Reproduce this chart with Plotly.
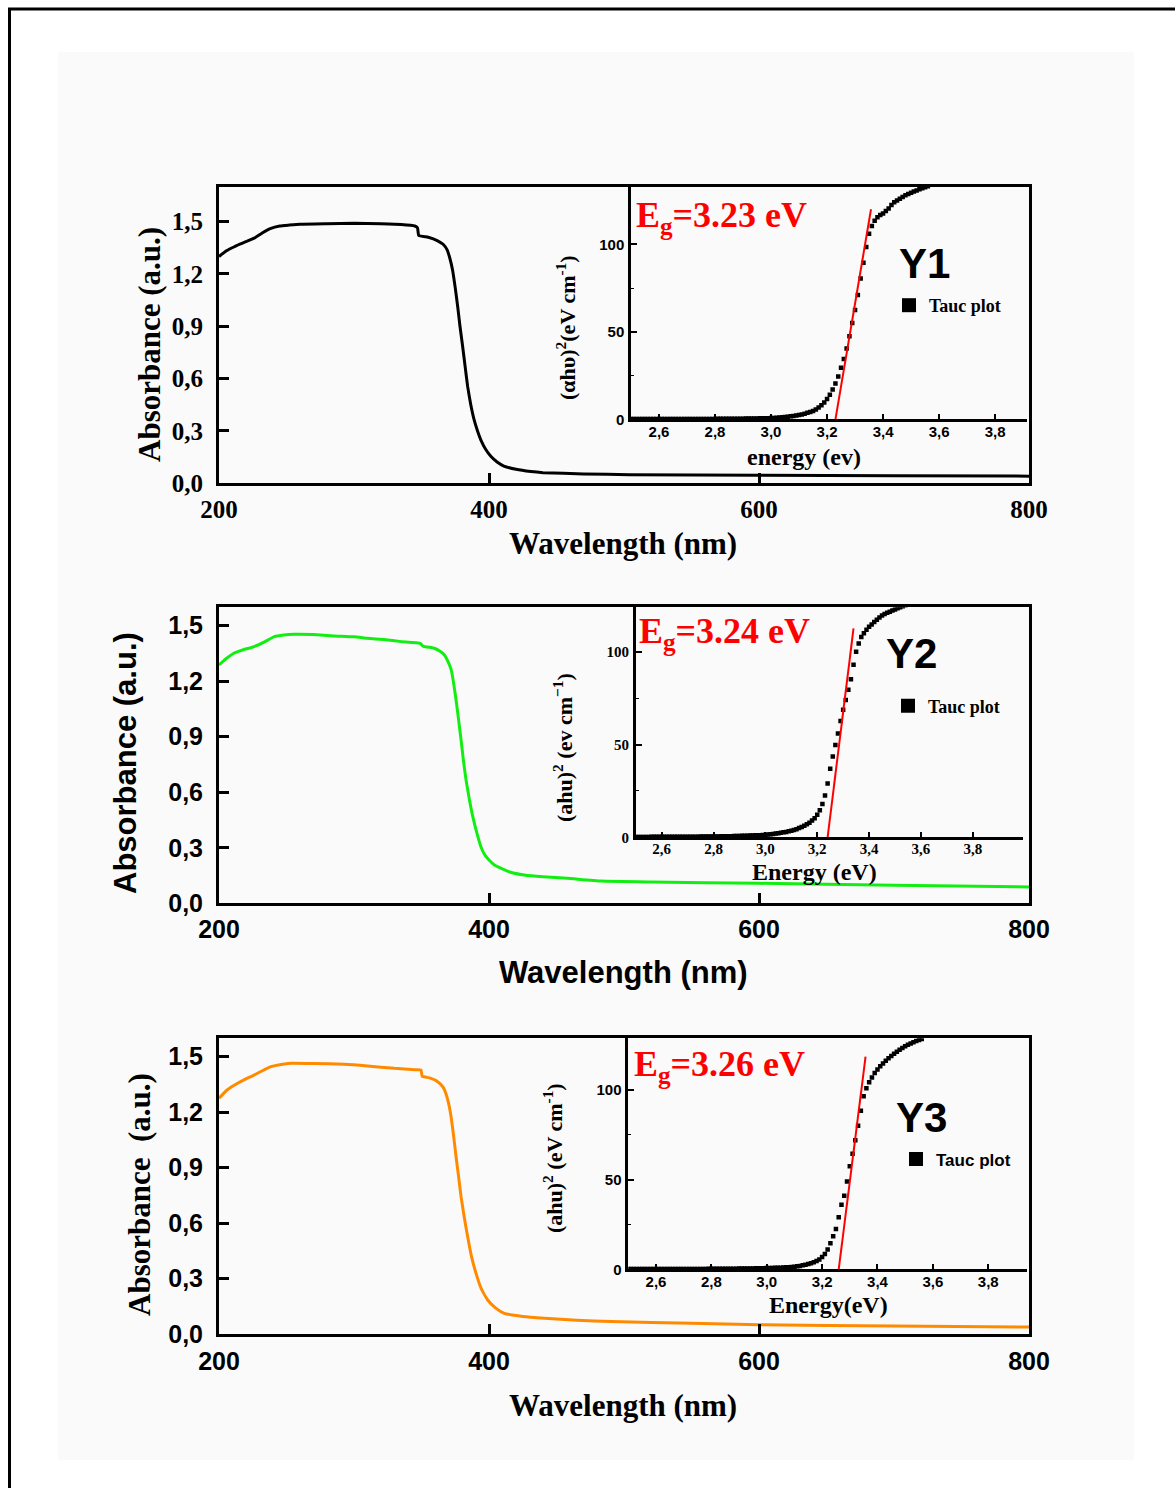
import plotly.graph_objects as go

W, H = 1175, 1488

# ---------------- UV-Vis absorbance spectra ----------------
wl_y1 = [200, 205, 209, 215, 220, 226, 232, 238, 245, 252, 260, 280, 300, 320, 335, 345,
         347, 348, 355, 362, 366, 369, 371, 373, 375, 376.8, 378.5, 380.5, 382.3, 384.2,
         386.5, 389, 391.5, 394, 397.5, 401.5, 406, 411, 420, 431, 440, 470, 504, 600, 700, 800]
abs_y1 = [1.30, 1.33, 1.347, 1.37, 1.385, 1.405, 1.435, 1.46, 1.475, 1.48, 1.485, 1.488, 1.49,
          1.487, 1.483, 1.475, 1.465, 1.42, 1.41, 1.39, 1.37, 1.338, 1.29, 1.223, 1.12, 1.013,
          0.90, 0.783, 0.67, 0.554, 0.45, 0.363, 0.30, 0.248, 0.195, 0.153, 0.122, 0.099, 0.08,
          0.067, 0.061, 0.054, 0.049, 0.046, 0.043, 0.041]

wl_y2 = [200, 205, 211, 218, 226, 233, 241, 248, 256, 270, 285, 300, 310, 322, 335, 349, 351,
         359.5, 364, 367, 370, 372, 374, 375.6, 377.5, 379.3, 381, 383, 385.5, 388, 391, 394,
         397, 400, 404, 409, 416, 426, 440, 458, 483, 520, 600, 700, 800]
abs_y2 = [1.288, 1.32, 1.351, 1.37, 1.387, 1.41, 1.441, 1.45, 1.454, 1.452, 1.445, 1.44, 1.432,
          1.425, 1.414, 1.405, 1.39, 1.378, 1.36, 1.342, 1.30, 1.261, 1.18, 1.099, 0.99, 0.883,
          0.775, 0.666, 0.56, 0.468, 0.38, 0.306, 0.26, 0.234, 0.207, 0.189, 0.168, 0.153,
          0.143, 0.135, 0.12, 0.115, 0.108, 0.097, 0.088]

wl_y3 = [200, 206, 213.8, 220, 223.7, 231, 238.5, 246, 253.3, 270, 292.8, 310, 329.9, 345,
         349.6, 350.5, 356, 362, 366, 368, 370, 371.9, 373.8, 375.6, 377.5, 379.3, 381.7,
         384.2, 387, 390.4, 394, 399, 405, 411.3, 425, 441, 465, 490.4, 550, 600, 700, 800]
abs_y3 = [1.275, 1.32, 1.356, 1.38, 1.392, 1.42, 1.446, 1.458, 1.464, 1.463, 1.459, 1.45, 1.437,
          1.43, 1.428, 1.395, 1.385, 1.365, 1.335, 1.302, 1.25, 1.175, 1.07, 0.959, 0.85, 0.743,
          0.63, 0.526, 0.42, 0.328, 0.25, 0.184, 0.14, 0.112, 0.095, 0.085, 0.075, 0.067,
          0.058, 0.05, 0.043, 0.038]

# ---------------- Tauc plots: (alpha h nu)^2 vs photon energy ----------------
tauc_energy = [
    2.50, 2.51, 2.52, 2.53, 2.54, 2.55, 2.56, 2.57, 2.58, 2.59,
    2.60, 2.61, 2.62, 2.63, 2.64, 2.65, 2.66, 2.67, 2.68, 2.69,
    2.70, 2.71, 2.72, 2.73, 2.74, 2.75, 2.76, 2.77, 2.78, 2.79,
    2.80, 2.81, 2.82, 2.83, 2.84, 2.85, 2.86, 2.87, 2.88, 2.89,
    2.90, 2.91, 2.92, 2.93, 2.94, 2.95, 2.96, 2.97, 2.98, 2.99,
    3.00, 3.01, 3.02, 3.03, 3.04, 3.05, 3.06, 3.07, 3.08, 3.09,
    3.10, 3.11, 3.12, 3.13, 3.14, 3.15, 3.16, 3.17, 3.18, 3.19,
    3.20, 3.21, 3.22, 3.23, 3.24, 3.25, 3.26, 3.27, 3.28, 3.29,
    3.30, 3.31, 3.32, 3.33, 3.34, 3.35, 3.36, 3.37, 3.38, 3.39,
    3.40, 3.41, 3.42, 3.43, 3.44, 3.45, 3.46, 3.47, 3.48, 3.49,
    3.50, 3.51, 3.52, 3.53, 3.54, 3.55, 3.56]

tauc_y1 = [
    0.10, 0.10, 0.10, 0.11, 0.11, 0.11, 0.12, 0.12, 0.12, 0.13,
    0.13, 0.13, 0.14, 0.14, 0.14, 0.15, 0.15, 0.16, 0.16, 0.17,
    0.17, 0.18, 0.18, 0.19, 0.19, 0.20, 0.21, 0.21, 0.22, 0.23,
    0.24, 0.25, 0.26, 0.27, 0.28, 0.29, 0.30, 0.32, 0.33, 0.35,
    0.37, 0.39, 0.41, 0.44, 0.47, 0.50, 0.54, 0.58, 0.62, 0.67,
    0.72, 0.80, 0.90, 1.00, 1.15, 1.30, 1.50, 1.70, 1.90, 2.20,
    2.50, 2.80, 3.20, 3.70, 4.20, 4.70, 5.60, 6.70, 8.00, 9.60,
    11.6, 14.0, 17.0, 20.5, 24.5, 29.5, 34.5, 40.5, 47.5, 55.0,
    62.5, 71.0, 80.5, 89.5, 98.5, 106.0, 110.5, 113.5, 115.5, 116.8,
    117.6, 119.0, 120.5, 122.5, 124.0, 125.0, 126.0, 127.0, 128.0, 128.8,
    129.5, 130.1, 130.7, 131.4, 132.0, 132.6, 133.2]

tauc_y2 = [
    0.20, 0.20, 0.21, 0.21, 0.22, 0.22, 0.23, 0.23, 0.24, 0.24,
    0.25, 0.25, 0.26, 0.27, 0.27, 0.28, 0.29, 0.29, 0.30, 0.31,
    0.32, 0.33, 0.34, 0.35, 0.36, 0.37, 0.38, 0.40, 0.41, 0.43,
    0.45, 0.47, 0.49, 0.51, 0.53, 0.56, 0.59, 0.62, 0.66, 0.70,
    0.74, 0.78, 0.82, 0.87, 0.92, 0.98, 1.04, 1.10, 1.17, 1.25,
    1.30, 1.45, 1.60, 1.80, 2.00, 2.20, 2.50, 2.70, 2.90, 3.20,
    3.50, 3.90, 4.40, 5.00, 5.60, 6.20, 7.00, 7.90, 9.00, 10.3,
    12.2, 14.6, 18.0, 22.5, 29.0, 37.0, 43.5, 49.7, 56.0, 62.7,
    68.8, 74.0, 79.5, 85.2, 93.0, 100.0, 104.5, 108.0, 110.0, 111.8,
    113.4, 114.7, 116.0, 117.2, 118.4, 119.5, 120.4, 121.0, 121.6, 122.2,
    122.8, 123.4, 124.0, 124.5, 125.0, 125.5, 126.0]

tauc_y3 = [
    0.10, 0.10, 0.10, 0.11, 0.11, 0.11, 0.12, 0.12, 0.12, 0.13,
    0.13, 0.13, 0.14, 0.14, 0.15, 0.15, 0.15, 0.16, 0.16, 0.17,
    0.17, 0.18, 0.18, 0.19, 0.20, 0.20, 0.21, 0.22, 0.23, 0.24,
    0.25, 0.26, 0.27, 0.28, 0.29, 0.30, 0.31, 0.33, 0.34, 0.36,
    0.38, 0.40, 0.42, 0.44, 0.46, 0.49, 0.52, 0.55, 0.58, 0.62,
    0.66, 0.70, 0.75, 0.80, 0.86, 0.93, 1.00, 1.10, 1.20, 1.30,
    1.45, 1.65, 1.90, 2.20, 2.55, 2.95, 3.40, 3.95, 4.60, 5.40,
    6.8, 8.6, 11.0, 14.5, 18.5, 22.5, 29.0, 36.0, 41.0, 49.0,
    57.5, 64.5, 72.0, 80.0, 88.5, 96.5, 101.0, 104.3, 107.0, 109.5,
    111.5, 113.2, 114.8, 116.3, 117.7, 119.0, 120.2, 121.3, 122.4, 123.4,
    124.4, 125.3, 126.0, 126.7, 127.3, 127.9, 128.5]

# band-gap values and the upper end of each linear fit
band_gaps = [3.23, 3.24, 3.26]
fit_top_energy = [3.357, 3.34, 3.357]
fit_top_value = [120.0, 112.6, 118.6]
sample_names = ["Y1", "Y2", "Y3"]

# tick values and labels (comma decimal separator)
abs_ticks = [0.0, 0.3, 0.6, 0.9, 1.2, 1.5]
abs_ticktext = ["0,0", "0,3", "0,6", "0,9", "1,2", "1,5"]
wl_ticks = [200, 400, 600, 800]
wl_ticktext = ["200", "400", "600", "800"]
energy_ticks = [2.6, 2.8, 3.0, 3.2, 3.4, 3.6, 3.8]
energy_ticktext = ["2,6", "2,8", "3,0", "3,2", "3,4", "3,6", "3,8"]
tauc_ticks = [0, 50, 100]
tauc_ticktext = ["0", "50", "100"]

SERIF = "Liberation Serif"
SANS = "Liberation Sans"


def fx(p):
    return p / W


def fy(p):
    return 1 - p / H


fig = go.Figure()

# ---------- panel geometry (pixels) ----------
main_x_px = (219, 1029)
main_panels = [
    dict(top=186.7, bottom=483.3, ymax=1.70),
    dict(top=607.2, bottom=903.3, ymax=1.60),
    dict(top=1038.2, bottom=1334.0, ymax=1.60),
]
inset_panels = [
    dict(left=631.0, right=1027.0, top=186.7, bottom=419.3, xmax=3.914, ymax=132.9),
    dict(left=635.8, right=1023.3, top=607.2, bottom=837.3, xmax=3.995, ymax=124.0),
    dict(left=628.3, right=1026.7, top=1038.2, bottom=1269.3, xmax=3.939, ymax=128.9),
]

line_colors = ["#000000", "#12ee12", "#ff8a00"]
spectra = [(wl_y1, abs_y1), (wl_y2, abs_y2), (wl_y3, abs_y3)]
taucs = [tauc_y1, tauc_y2, tauc_y3]

# fonts per panel
main_tick_font = [SERIF, SANS, SANS]
main_ytitle_font = [SERIF, SANS, SERIF]
main_xtitle_font = [SERIF, SANS, SERIF]
inset_xtick_font = [SANS, SERIF, SANS]
inset_ytick_font = [SANS, SERIF, SANS]
legend_font = [SERIF, SERIF, SANS]
legend_size = [18, 18, 17]
main_x_standoff = [2, 2, 3]
inset_x_standoff = [-3, -4, -3]

for i in range(3):
    mx = "x" if i == 0 else f"x{i + 1}"
    my = "y" if i == 0 else f"y{i + 1}"
    ix = f"x{i + 4}"
    iy = f"y{i + 4}"

    wl, ab = spectra[i]
    fig.add_trace(go.Scatter(x=wl, y=ab, mode="lines", xaxis=mx, yaxis=my,
                             line=dict(color=line_colors[i], width=3, shape="spline",
                                       smoothing=0.4),
                             showlegend=False, hoverinfo="skip"))

    # Tauc data points
    fig.add_trace(go.Scatter(x=tauc_energy, y=taucs[i], mode="markers", xaxis=ix, yaxis=iy,
                             marker=dict(symbol="square", size=4.5, color="black",
                                         line=dict(width=0)),
                             showlegend=False, hoverinfo="skip"))
    # legend entry
    lg = "legend" if i == 0 else f"legend{i + 1}"
    fig.add_trace(go.Scatter(x=[None], y=[None], mode="markers", xaxis=ix, yaxis=iy,
                             marker=dict(symbol="square", size=14, color="black"),
                             name="Tauc plot", legend=lg, showlegend=True))
    # linear extrapolation to the energy axis
    fig.add_trace(go.Scatter(x=[band_gaps[i], fit_top_energy[i]], y=[0, fit_top_value[i]],
                             mode="lines", xaxis=ix, yaxis=iy,
                             line=dict(color="#ff0000", width=2),
                             showlegend=False, hoverinfo="skip"))

layout = dict(
    width=W, height=H, autosize=False,
    margin=dict(l=0, r=0, t=0, b=0, pad=0),
    paper_bgcolor="white",
    plot_bgcolor="rgba(0,0,0,0)",
    showlegend=True,
)

for i in range(3):
    mp = main_panels[i]
    ip = inset_panels[i]
    sfx = "" if i == 0 else str(i + 1)
    tf = main_tick_font[i]
    layout[f"xaxis{sfx}"] = dict(
        domain=[fx(main_x_px[0]), fx(main_x_px[1])], range=[200, 800], automargin=False,
        anchor=f"y{sfx}", showline=True, linewidth=3, linecolor="black", mirror=True,
        ticks="inside", ticklen=10, tickwidth=2.5, tickcolor="black",
        tickvals=wl_ticks, ticktext=wl_ticktext, showgrid=False, zeroline=False,
        tickfont=dict(family=tf, size=25, color="black", weight="bold"),
        ticklabelstandoff=main_x_standoff[i],
    )
    layout[f"yaxis{sfx}"] = dict(
        domain=[fy(mp["bottom"]), fy(mp["top"])], range=[0, mp["ymax"]], automargin=False,
        anchor=f"x{sfx}", showline=True, linewidth=3, linecolor="black", mirror=True,
        ticks="inside", ticklen=10, tickwidth=2.5, tickcolor="black",
        tickvals=abs_ticks, ticktext=abs_ticktext, showgrid=False, zeroline=False,
        tickfont=dict(family=tf, size=25, color="black", weight="bold"),
        ticklabelstandoff=8,
    )
    n = i + 4
    layout[f"xaxis{n}"] = dict(
        domain=[fx(ip["left"]), fx(ip["right"])], range=[2.5, ip["xmax"]], automargin=False,
        anchor=f"y{n}", showline=True, linewidth=2.5, linecolor="black", mirror=False,
        ticks="inside", ticklen=6, tickwidth=1.5, tickcolor="black",
        tickvals=energy_ticks, ticktext=energy_ticktext, showgrid=False, zeroline=False,
        tickfont=dict(family=inset_xtick_font[i], size=15, color="black", weight="bold"),
        ticklabelstandoff=inset_x_standoff[i],
    )
    layout[f"yaxis{n}"] = dict(
        domain=[fy(ip["bottom"]), fy(ip["top"])], range=[0, ip["ymax"]], automargin=False,
        anchor=f"x{n}", showline=True, linewidth=2.5, linecolor="black", mirror=False,
        ticks="inside", ticklen=6, tickwidth=1.5, tickcolor="black",
        tickvals=tauc_ticks, ticktext=tauc_ticktext, showgrid=False, zeroline=False,
        minor=dict(ticks="inside", ticklen=3, tickwidth=1.2, tickcolor="black",
                   tickvals=[25, 75], showgrid=False),
        tickfont=dict(family=inset_ytick_font[i], size=15, color="black", weight="bold"),
        ticklabelstandoff=1,
    )

# legends
legend_pos = [(889, 305.5), (888, 706), (896, 1159.5)]
for i in range(3):
    key = "legend" if i == 0 else f"legend{i + 1}"
    layout[key] = dict(
        x=fx(legend_pos[i][0]), y=fy(legend_pos[i][1]), xanchor="left", yanchor="middle",
        bgcolor="rgba(0,0,0,0)", borderwidth=0, itemsizing="trace",
        font=dict(family=legend_font[i], size=legend_size[i], color="black", weight="bold"),
    )

fig.update_layout(**layout)

# page frame and faint backdrop
fig.add_shape(type="rect", xref="paper", yref="paper", x0=fx(58), x1=fx(1134),
              y0=fy(1460), y1=fy(52), fillcolor="#fafafa", line=dict(width=0), layer="below")
fig.add_shape(type="line", xref="paper", yref="paper", x0=fx(8), x1=1.0, y0=fy(9), y1=fy(9),
              line=dict(color="black", width=3))
fig.add_shape(type="line", xref="paper", yref="paper", x0=fx(9.5), x1=fx(9.5), y0=fy(8), y1=0.0,
              line=dict(color="black", width=3))


def note(text, cx, cy, family, size, angle=0, color="black", xanchor="center", bold=True):
    fig.add_annotation(text=text, x=fx(cx), y=fy(cy), xref="paper", yref="paper",
                       xanchor=xanchor, yanchor="middle", showarrow=False, textangle=angle,
                       font=dict(family=family, size=size, color=color,
                                 weight="bold" if bold else "normal"))


# main axis titles
ytitle_pos = [(150, 345), (125, 763), (139, 1195)]
ytitle_text = ["Absorbance (a.u.)", "Absorbance (a.u.)", "Absorbance  (a.u.)"]
xtitle_pos = [(623, 543), (623, 972), (623, 1405)]
for i in range(3):
    note(ytitle_text[i], ytitle_pos[i][0], ytitle_pos[i][1], main_ytitle_font[i], 31, angle=-90)
    note("Wavelength (nm)", xtitle_pos[i][0], xtitle_pos[i][1], main_xtitle_font[i], 31)

# inset axis titles
inset_ytitles = ["(αhυ)<sup>2</sup>(eV cm<sup>-1</sup>)",
                 "(ahu)<sup>2</sup> (ev cm<sup>−1</sup>)",
                 "(ahu)<sup>2</sup> (eV cm<sup>-1</sup>)"]
inset_ytitle_pos = [(566, 328), (563, 748), (553, 1158)]
inset_xtitles = ["energy (ev)", "Energy (eV)", "Energy(eV)"]
inset_xtitle_pos = [(804, 457), (814, 872), (828, 1305)]
for i in range(3):
    note(inset_ytitles[i], inset_ytitle_pos[i][0], inset_ytitle_pos[i][1], SERIF, 22, angle=-90)
    note(inset_xtitles[i], inset_xtitle_pos[i][0], inset_xtitle_pos[i][1], SERIF, 24)

# band-gap labels and sample names
eg_pos = [(634, 218), (637, 634), (632, 1066)]
name_pos = [(924, 263), (911, 653), (921, 1117)]
for i in range(3):
    note(f"E<sub>g</sub>={band_gaps[i]:.2f} eV", eg_pos[i][0], eg_pos[i][1], SERIF, 36,
         color="#ff0000", xanchor="left")
    note(sample_names[i], name_pos[i][0], name_pos[i][1], SANS, 42)

fig.write_html("out.html", config={"responsive": False})
